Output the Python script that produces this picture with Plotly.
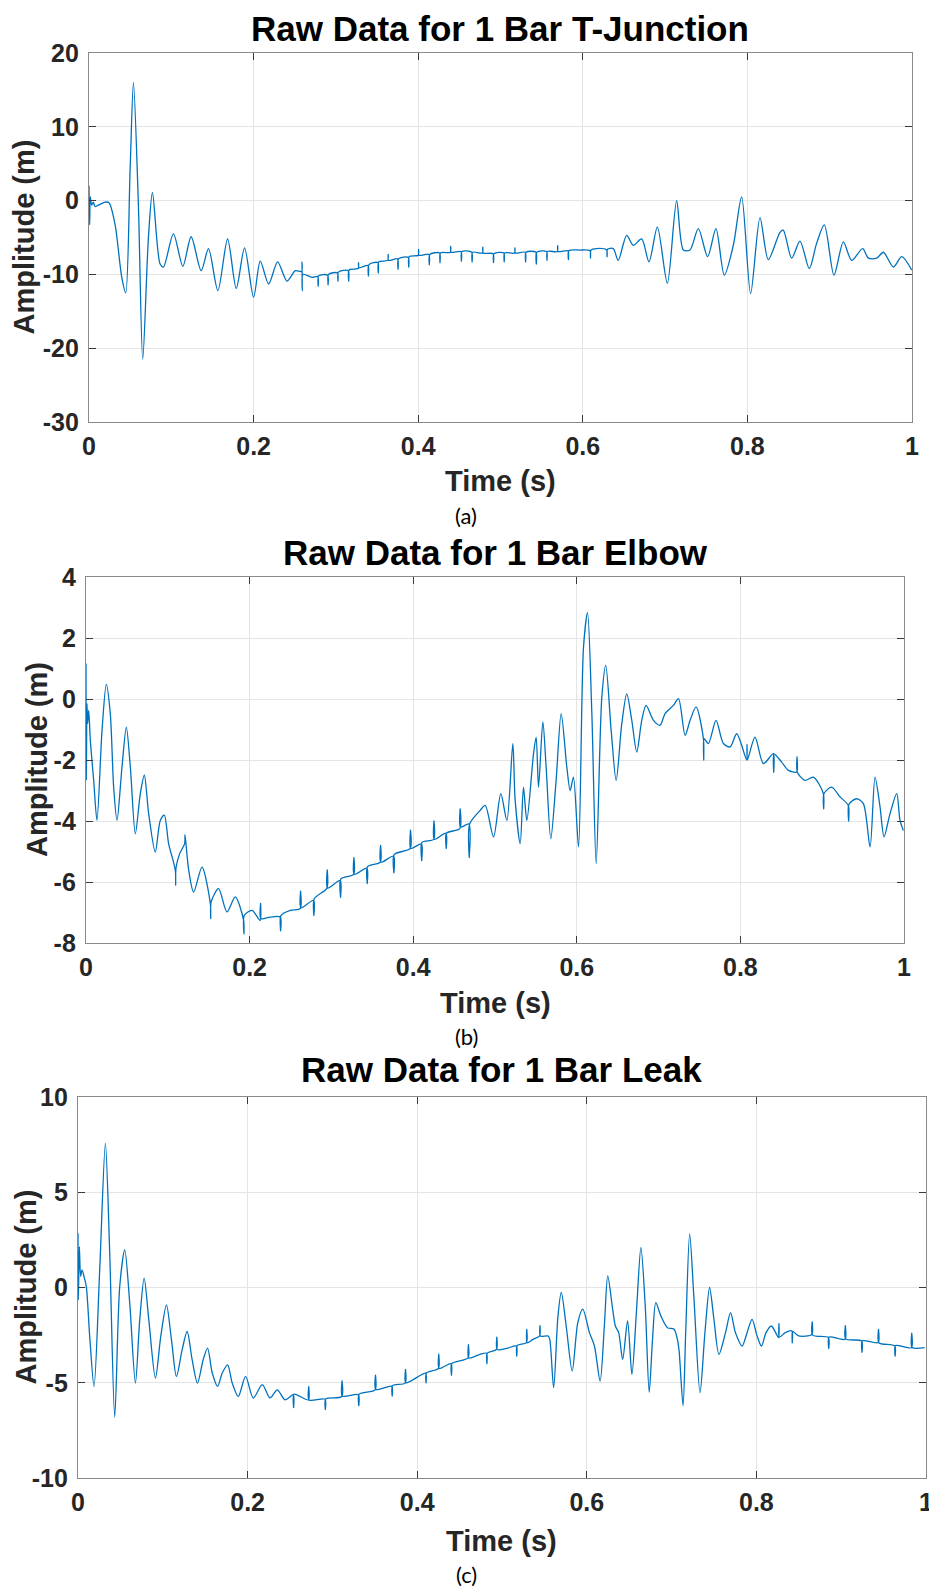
import plotly.graph_objects as go

# ---- data ----
titles = ["Raw Data for 1 Bar T-Junction", "Raw Data for 1 Bar Elbow", "Raw Data for 1 Bar Leak"]
captions = ["(a)", "(b)", "(c)"]
x_label = "Time (s)"
y_label = "Amplitude (m)"

x_ticks = [0, 0.2, 0.4, 0.6, 0.8, 1]
x_ticktext = ["0", "0.2", "0.4", "0.6", "0.8", "1"]
y_ticks_a = [-30, -20, -10, 0, 10, 20]
y_ticks_b = [-8, -6, -4, -2, 0, 2, 4]
y_ticks_c = [-10, -5, 0, 5, 10]

# (a) T-junction
t_a = [0.0, 0.0008, 0.0016, 0.0032, 0.0053, 0.0073, 0.0134, 0.0195, 0.0243,
       0.0316, 0.0398, 0.0446, 0.0499, 0.054, 0.060, 0.0653, 0.0722, 0.0771,
       0.0864, 0.0905, 0.1026, 0.114, 0.1241, 0.1363, 0.1452, 0.1566, 0.1684,
       0.1789, 0.189, 0.2, 0.2081, 0.2183, 0.2292, 0.2406, 0.2507, 0.2584,
       0.2588, 0.2592, 0.26, 0.271, 0.278, 0.2785, 0.279, 0.290, 0.2905, 0.291,
       0.302, 0.3025, 0.303, 0.315, 0.3155, 0.316, 0.327, 0.3275, 0.328, 0.339,
       0.3395, 0.340, 0.351, 0.3515, 0.352, 0.363, 0.3635, 0.364, 0.375, 0.3755,
       0.376, 0.388, 0.3885, 0.389, 0.400, 0.4005, 0.401, 0.413, 0.4135, 0.414,
       0.426, 0.4265, 0.427, 0.439, 0.4395, 0.440, 0.452, 0.4525, 0.453, 0.465,
       0.4655, 0.466, 0.478, 0.4785, 0.479, 0.491, 0.4915, 0.492, 0.504, 0.5045,
       0.505, 0.517, 0.5175, 0.518, 0.530, 0.5305, 0.531, 0.543, 0.5435, 0.544,
       0.556, 0.5565, 0.557, 0.569, 0.5695, 0.570, 0.582, 0.5825, 0.583, 0.5966,
       0.6088, 0.6093, 0.610, 0.6168, 0.629, 0.6295, 0.630, 0.637, 0.643, 0.6533,
       0.6614, 0.6715, 0.6804, 0.6906, 0.7027, 0.714, 0.7222, 0.7302, 0.7404,
       0.7517, 0.7618, 0.7719, 0.7829, 0.793, 0.8039, 0.8153, 0.8254, 0.8396,
       0.8436, 0.8538, 0.8639, 0.8752, 0.8841, 0.8935, 0.9052, 0.9166, 0.9267,
       0.94, 0.947, 0.9571, 0.9652, 0.9774, 0.9875, 0.9996]
amp_a = [2.0, -3.3, 0.5, -0.6, -0.2, -0.8, -0.5, -0.2, -0.3,
         -3.2, -10.4, -12.5, 4.0, 16.0, -0.5, -21.5, -5.0, 1.1,
         -8.6, -9.0, -4.5, -8.9, -4.9, -9.5, -6.5, -12.2, -5.2,
         -11.9, -6.4, -13.1, -8.2, -11.3, -8.3, -10.9, -9.5, -9.6,
         -8.3, -12.2, -10.0, -10.4, -10.3, -11.6, -10.2, -10.1, -11.4, -10.0,
         -9.8, -10.9, -9.7, -9.5, -10.9, -9.4, -9.2, -8.4, -9.1, -8.8,
         -10.2, -8.7, -8.4, -9.8, -8.3, -8.1, -7.3, -8.1, -7.9, -9.3,
         -7.9, -7.7, -9.0, -7.6, -7.4, -6.6, -7.4, -7.3, -8.7, -7.3,
         -7.1, -8.4, -7.1, -7.0, -6.2, -7.0, -6.9, -8.2, -6.9, -7.0,
         -8.3, -7.0, -7.1, -6.3, -7.1, -7.2, -8.4, -7.2, -7.1, -8.3,
         -7.1, -7.1, -6.4, -7.1, -7.0, -8.3, -7.0, -7.0, -8.6, -7.0,
         -6.9, -8.1, -6.9, -6.9, -6.1, -6.9, -6.8, -8.0, -6.8, -6.7,
         -6.8, -7.8, -6.7, -6.5, -6.7, -7.6, -6.6, -6.5, -8.1, -4.7,
         -6.05, -5.2, -8.3, -3.6, -11.2, 0.0, -6.7, -6.7, -3.8,
         -7.6, -3.8, -10.1, -6.05, 0.5, -12.6, -2.3, -8.0, -4.3,
         -4.0, -7.8, -5.5, -9.2, -5.8, -3.3, -10.1, -5.6, -8.1,
         -6.5, -7.8, -7.8, -7.0, -9.0, -7.6, -9.4]

# (b) Elbow
t_b = [0.0, 0.0004, 0.0012, 0.002, 0.0033, 0.0053, 0.0094, 0.0134, 0.0196,
       0.0248, 0.0297, 0.0338, 0.0379, 0.044, 0.0493, 0.0542, 0.0603, 0.0664,
       0.0713, 0.0766, 0.0847, 0.0908, 0.0957, 0.101, 0.1092, 0.1096, 0.11,
       0.1145, 0.1206, 0.121, 0.1255, 0.1316, 0.1418, 0.152, 0.1525, 0.153,
       0.1621, 0.1723, 0.1825, 0.1927, 0.1931, 0.1935, 0.2029, 0.213, 0.2134,
       0.2138, 0.2253, 0.2375, 0.2379, 0.2383, 0.2497, 0.2619, 0.2623, 0.2627,
       0.2782, 0.2786, 0.279, 0.2945, 0.2949, 0.2953, 0.3108, 0.3112, 0.3116,
       0.3271, 0.3275, 0.3279, 0.3434, 0.3438, 0.3442, 0.3597, 0.3601, 0.3605,
       0.376, 0.3764, 0.3768, 0.3963, 0.3967, 0.3971, 0.41, 0.4104, 0.4108,
       0.425, 0.4254, 0.4258, 0.44, 0.4404, 0.4408, 0.457, 0.4574, 0.4578,
       0.468, 0.4685, 0.469, 0.4819, 0.488, 0.4982, 0.5071, 0.5145, 0.5218,
       0.5246, 0.5308, 0.5348, 0.5389, 0.5471, 0.5503, 0.5532, 0.5585, 0.5625,
       0.5682, 0.5747, 0.5809, 0.5878, 0.5919, 0.5959, 0.6021, 0.6082, 0.6131,
       0.6184, 0.6237, 0.6306, 0.6354, 0.642, 0.6481, 0.655, 0.6611, 0.6672,
       0.6733, 0.6794, 0.6847, 0.6937, 0.7018, 0.7079, 0.7181, 0.7243, 0.7324,
       0.7385, 0.7458, 0.7548, 0.7552, 0.7556, 0.7609, 0.7702, 0.7792, 0.7874,
       0.7955, 0.8077, 0.8081, 0.8085, 0.8179, 0.8281, 0.8403, 0.8407, 0.8411,
       0.8505, 0.8587, 0.8688, 0.8692, 0.8696, 0.879, 0.8892, 0.9014, 0.9018,
       0.9022, 0.9116, 0.9218, 0.9319, 0.9323, 0.9327, 0.9421, 0.9503, 0.9585,
       0.9646, 0.9707, 0.9756, 0.9829, 0.9911, 0.9951, 0.9992]
amp_b = [1.16, -2.67, -0.15, -0.8, -0.37, -1.36, -2.67, -3.98, -1.03,
         0.48, -0.48, -2.89, -3.98, -2.23, -0.92, -2.23, -4.42, -3.1,
         -2.5, -3.76, -5.02, -3.98, -3.81, -4.74, -5.62, -6.1, -5.55,
         -5.07, -4.74, -4.45, -5.6, -6.33, -5.51, -6.71, -7.2, -6.65,
         -6.22, -6.98, -6.49, -7.26, -7.7, -7.1, -6.93, -7.26, -6.7,
         -7.2, -7.15, -7.15, -7.6, -7.1, -6.93, -6.87, -6.3, -6.85,
         -6.6, -7.1, -6.55, -6.2, -5.6, -6.2, -5.95, -6.5, -5.9,
         -5.75, -5.2, -5.75, -5.55, -6.05, -5.5, -5.35, -4.8, -5.35,
         -5.15, -5.7, -5.1, -4.9, -4.3, -4.9, -4.75, -5.3, -4.7,
         -4.6, -4.0, -4.6, -4.4, -4.9, -4.4, -4.25, -3.6, -4.2,
         -4.1, -5.2, -4.1, -3.65, -3.49, -4.52, -3.1, -3.98, -1.46,
         -3.3, -4.74, -2.89, -3.98, -1.79, -1.25, -2.89, -0.75, -2.23,
         -4.58, -2.67, -0.48, -2.23, -3.0, -2.56, -4.85, 1.7, 2.83,
         -0.48, -5.4, 0.07, 1.1, -1.03, -2.67, -0.81, 0.17, -0.7,
         -1.74, -0.7, -0.21, -0.7, -0.86, -0.48, -0.21, 0.01, -1.19,
         -0.7, -0.26, -1.3, -2.0, -1.3, -1.46, -0.7, -1.46, -1.57,
         -1.14, -2.0, -1.5, -2.0, -1.25, -2.12, -1.79, -2.4, -1.8,
         -2.07, -2.34, -2.39, -1.9, -2.4, -2.67, -2.56, -3.1, -3.6,
         -3.1, -2.89, -3.21, -3.49, -4.0, -3.45, -3.27, -3.43, -4.85,
         -2.56, -3.54, -4.52, -3.76, -3.1, -3.98, -4.31]

# (c) Leak
t_c = [0.0, 0.0004, 0.0016, 0.0031, 0.0047, 0.0071, 0.0098, 0.0138, 0.0189,
       0.0256, 0.0323, 0.0374, 0.0433, 0.0492, 0.0551, 0.061, 0.0677, 0.0728,
       0.078, 0.0835, 0.0913, 0.0976, 0.1043, 0.1102, 0.1161, 0.1228, 0.1287,
       0.1346, 0.1409, 0.1476, 0.1528, 0.1583, 0.1646, 0.1701, 0.1764, 0.1819,
       0.189, 0.1976, 0.2067, 0.2173, 0.2264, 0.235, 0.2441, 0.2539, 0.2543,
       0.2547, 0.2717, 0.2721, 0.2725, 0.2913, 0.2917, 0.2921, 0.311, 0.3114,
       0.3118, 0.3307, 0.3311, 0.3315, 0.3504, 0.3508, 0.3512, 0.3701, 0.3705,
       0.3709, 0.3858, 0.3862, 0.3866, 0.41, 0.4104, 0.4108, 0.425, 0.4254,
       0.4258, 0.44, 0.4404, 0.4408, 0.46, 0.4604, 0.4608, 0.474, 0.4818,
       0.4822, 0.4826, 0.4935, 0.4939, 0.4943, 0.5053, 0.517, 0.5174, 0.5178,
       0.5288, 0.5292, 0.5296, 0.5366, 0.5444, 0.5448, 0.5452, 0.5542, 0.5562,
       0.5609, 0.566, 0.5699, 0.5757, 0.5828, 0.5894, 0.5953, 0.6031, 0.609,
       0.6157, 0.6207, 0.6247, 0.6305, 0.6337, 0.6376, 0.6423, 0.6481, 0.6532,
       0.6587, 0.6638, 0.6689, 0.6736, 0.6775, 0.6814, 0.6873, 0.6951, 0.7029,
       0.7068, 0.7088, 0.7135, 0.7166, 0.7213, 0.7264, 0.7335, 0.7393, 0.7448,
       0.7499, 0.7558, 0.7636, 0.7695, 0.7753, 0.7832, 0.789, 0.7949, 0.8008,
       0.8059, 0.8114, 0.8176, 0.8262, 0.8266, 0.827, 0.8341, 0.8419, 0.8423,
       0.8427, 0.8497, 0.8654, 0.8658, 0.8662, 0.8849, 0.8853, 0.8857, 0.9045,
       0.9049, 0.9053, 0.9241, 0.9245, 0.9249, 0.9436, 0.944, 0.9444, 0.9632,
       0.9636, 0.964, 0.9828, 0.9832, 0.9836, 0.9984]
amp_c = [2.85, -0.65, 2.15, 0.58, 0.93, 0.58, 0.05, -2.57, -5.19,
         0.93, 7.57, 1.8, -6.8, 0.05, 1.98, -0.82, -5.02, -1.7,
         0.49, -1.7, -4.76, -2.57, -0.91, -2.74, -4.67, -3.27, -2.31,
         -3.79, -5.02, -3.79, -3.18, -4.49, -5.19, -4.49, -4.06, -5.02,
         -5.72, -4.67, -5.8, -5.1, -5.8, -5.37, -5.9, -5.63, -6.3,
         -5.6, -5.9, -5.2, -5.9, -5.86, -6.4, -5.85, -5.72, -4.9,
         -5.7, -5.63, -6.2, -5.6, -5.37, -4.6, -5.35, -5.19, -5.7,
         -5.15, -5.02, -4.3, -5.0, -4.5, -5.0, -4.5, -4.25, -3.5,
         -4.25, -4.0, -4.6, -4.0, -3.7, -3.0, -3.7, -3.51, -3.45,
         -4.0, -3.45, -3.25, -2.6, -3.25, -3.2, -3.07, -3.6, -3.05,
         -2.89, -2.2, -2.9, -2.72, -2.54, -2.0, -2.55, -2.54, -2.7,
         -5.26, -1.49, -0.26, -2.02, -4.39, -1.84, -1.14, -2.37, -3.07,
         -4.91, -2.02, 0.61, -1.14, -2.02, -2.37, -3.77, -1.75, -4.56,
         -1.14, 2.11, -0.96, -5.5, -2.72, -0.79, -1.49, -2.11, -2.19,
         -2.72, -3.3, -6.2, -2.37, 2.81, -0.61, -5.53, -2.37, 0.0,
         -1.67, -3.51, -2.37, -1.32, -2.37, -3.07, -2.37, -1.67, -2.54,
         -3.07, -2.37, -2.02, -2.63, -1.9, -2.6, -2.37, -2.28, -2.9,
         -2.3, -2.54, -2.46, -1.8, -2.5, -2.63, -3.2, -2.6, -2.72,
         -2.0, -2.7, -2.81, -3.4, -2.8, -2.89, -2.2, -2.9, -3.07,
         -3.6, -3.05, -3.16, -2.4, -3.15, -3.16]

# ---- layout, in page pixels ----
# the page body keeps its default 8px margin, so the figure is drawn 8px in
# from the top-left corner; shrink it by that much and shift everything back
PAGE_W, PAGE_H = 937, 1589
OFF = 8
W, H = PAGE_W - OFF, PAGE_H - OFF


def px_x(x):
    return (x - OFF) / W


def px_y(y):
    return 1 - (y - OFF) / H


# plot areas: left, right, top, bottom
boxes = [(89, 912, 53, 422), (86, 904, 577, 943), (78, 926, 1097, 1478)]
title_y = [28, 552, 1069]
xlabel_y = [481, 1003, 1541]
caption_y = [516, 1036, 1574]
ylabel_x = [24, 37, 25]

series = [(t_a, amp_a, y_ticks_a), (t_b, amp_b, y_ticks_b), (t_c, amp_c, y_ticks_c)]

fig = go.Figure()
annotations = []
layout = {}
for i, ((t, amp, yt), (l, r, top, bot)) in enumerate(zip(series, boxes)):
    suffix = "" if i == 0 else str(i + 1)
    fig.add_trace(go.Scatter(x=t, y=amp, mode="lines",
                             line=dict(color="#0072BD", width=1.3,
                                       shape="spline", smoothing=0.8),
                             xaxis="x" + suffix, yaxis="y" + suffix,
                             showlegend=False))
    common = dict(showline=True, linecolor="#8a8a8a", linewidth=1.3,
                  mirror="ticks", ticks="inside", ticklen=7, tickwidth=1,
                  tickcolor="#3a3a3a", showgrid=True, gridcolor="#e4e4e4",
                  gridwidth=1, zeroline=False, automargin=False,
                  ticklabeloverflow="allow",
                  tickfont=dict(family="Liberation Sans", size=25,
                                color="#262626", weight="bold"))
    layout["xaxis" + suffix] = dict(common, domain=[px_x(l), px_x(r)],
                                    anchor="y" + suffix, range=[0, 1],
                                    tickvals=x_ticks, ticktext=x_ticktext,
                                    ticklabelstandoff=2)
    layout["yaxis" + suffix] = dict(common, domain=[px_y(bot), px_y(top)],
                                    anchor="x" + suffix, range=[yt[0], yt[-1]],
                                    tickvals=yt, ticktext=[str(v) for v in yt],
                                    ticklabelstandoff=4)
    cx = px_x((l + r) / 2)
    annotations.append(dict(text="<b>" + titles[i] + "</b>", x=cx, y=px_y(title_y[i]),
                            xref="paper", yref="paper", showarrow=False,
                            xanchor="center", yanchor="middle", borderpad=0,
                            font=dict(family="Liberation Sans", size=35, color="#000000")))
    annotations.append(dict(text="<b>" + x_label + "</b>", x=cx, y=px_y(xlabel_y[i]),
                            xref="paper", yref="paper", showarrow=False,
                            xanchor="center", yanchor="middle",
                            font=dict(family="Liberation Sans", size=29, color="#262626")))
    annotations.append(dict(text="<b>" + y_label + "</b>", x=px_x(ylabel_x[i]),
                            y=px_y((top + bot) / 2), textangle=-90, borderpad=0,
                            xref="paper", yref="paper", showarrow=False,
                            xanchor="center", yanchor="middle",
                            font=dict(family="Liberation Sans", size=29, color="#262626")))
    annotations.append(dict(text=captions[i], x=px_x(466), y=px_y(caption_y[i]),
                            xref="paper", yref="paper", showarrow=False,
                            xanchor="center", yanchor="middle",
                            font=dict(family="Lato", size=22, color="#000000")))

fig.update_layout(width=W, height=H, margin=dict(l=0, r=0, t=0, b=0),
                  paper_bgcolor="white", plot_bgcolor="white",
                  annotations=annotations, **layout)
fig.write_html("out.html")
